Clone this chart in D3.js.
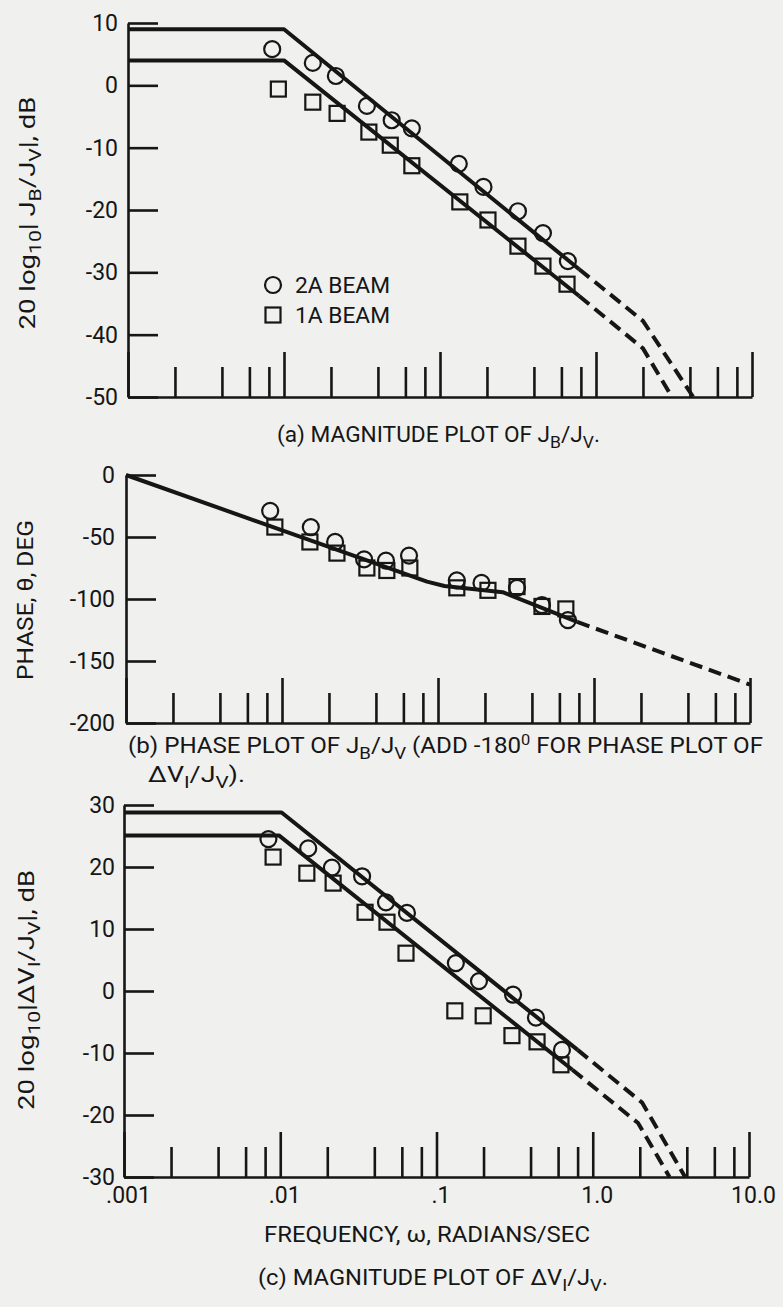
<!DOCTYPE html>
<html>
<head>
<meta charset="utf-8">
<script src="https://cdn.jsdelivr.net/npm/d3@7"></script>
<style>
	body { margin: 0; background: #f0f0ee; }
	svg { display: block; background: #f0f0ee; }
	text { font-family: Roboto, "Liberation Sans Narrow", "Liberation Sans", sans-serif; fill: #161616; }
	.tick text { font-size: 23px; }
</style>
</head>
<body>
<svg id="chart" width="783" height="1307"></svg>
<script>

///////////////////////////////////////////////////////////////////////
// data (frequency in rad/sec)

const freq_ticks = [ 0.001, 0.01, 0.1, 1, 10 ];
const freq_labels = [ ".001", ".01", ".1", "1.0", "10.0" ];
const minor_steps = [ 2, 4, 6, 8 ];

// (a) magnitude of JB/JV, dB
const mag_ticks_a = [ 10, 0, -10, -20, -30, -40, -50 ];
const freq_a_2A = [ 0.0084, 0.0153, 0.0215, 0.034, 0.049, 0.066, 0.132, 0.19, 0.316, 0.457, 0.66 ];
const mag_a_2A  = [ 5.8, 3.6, 1.5, -3.3, -5.6, -6.9, -12.6, -16.3, -20.2, -23.7, -28.2 ];
const freq_a_1A = [ 0.0092, 0.0153, 0.0219, 0.035, 0.048, 0.066, 0.134, 0.203, 0.316, 0.457, 0.652 ];
const mag_a_1A  = [ -0.6, -2.7, -4.5, -7.5, -9.6, -12.9, -18.7, -21.6, -25.8, -29.0, -31.9 ];
const fit_a_2A      = [ [ 0.001, 9 ], [ 0.01, 9 ], [ 0.78, -29.5 ] ];
const fit_a_2A_dash = [ [ 0.78, -29.5 ], [ 2.0, -37.8 ], [ 4.2, -50 ] ];
const fit_a_1A      = [ [ 0.001, 4 ], [ 0.01, 4 ], [ 0.78, -33.8 ] ];
const fit_a_1A_dash = [ [ 0.78, -33.8 ], [ 2.0, -42.2 ], [ 3.07, -50 ] ];

// (b) phase of JB/JV, deg
const phase_ticks = [ 0, -50, -100, -150, -200 ];
const freq_b_2A  = [ 0.0084, 0.0153, 0.0219, 0.0336, 0.0464, 0.0652, 0.132, 0.19, 0.321, 0.464, 0.68 ];
const phase_b_2A = [ -29, -42, -54, -68, -69, -65, -85, -87, -91, -105, -117 ];
const freq_b_1A  = [ 0.009, 0.0151, 0.0225, 0.035, 0.047, 0.066, 0.132, 0.209, 0.321, 0.464, 0.66 ];
const phase_b_1A = [ -42, -54, -63, -75, -77, -75, -91, -93, -90, -106, -108 ];
const fit_b      = [ [ 0.001, 0 ], [ 0.085, -86 ], [ 0.11, -89.5 ], [ 0.26, -94.5 ], [ 0.78, -118.5 ] ];
const fit_b_dash = [ [ 0.78, -118.5 ], [ 10, -169 ] ];

// (c) magnitude of dVI/JV, dB
const mag_ticks_c = [ 30, 20, 10, 0, -10, -20, -30 ];
const freq_c_2A = [ 0.0084, 0.0151, 0.0214, 0.0334, 0.0475, 0.0647, 0.133, 0.187, 0.309, 0.433, 0.635 ];
const mag_c_2A  = [ 24.5, 23.0, 19.9, 18.5, 14.3, 12.6, 4.5, 1.6, -0.6, -4.3, -9.5 ];
const freq_c_1A = [ 0.009, 0.0148, 0.0218, 0.0349, 0.0482, 0.0638, 0.131, 0.199, 0.304, 0.44, 0.626 ];
const mag_c_1A  = [ 21.6, 19.0, 17.4, 12.7, 11.1, 6.1, -3.2, -4.0, -7.2, -8.2, -11.9 ];
const fit_c_2A      = [ [ 0.001, 28.8 ], [ 0.0102, 28.8 ], [ 0.8, -9.5 ] ];
const fit_c_2A_dash = [ [ 0.8, -9.5 ], [ 2.07, -18 ], [ 3.9, -30 ] ];
const fit_c_1A      = [ [ 0.001, 25.1 ], [ 0.0098, 25.1 ], [ 0.74, -12.7 ] ];
const fit_c_1A_dash = [ [ 0.74, -12.7 ], [ 1.95, -21.3 ], [ 3.1, -30 ] ];

const legend_labels = [ "2A BEAM", "1A BEAM" ];

///////////////////////////////////////////////////////////////////////

const INK = "#161616";
const svg = d3.select( "#chart" );

let minor_ticks = [];
for( let i=0; i< freq_ticks.length - 1; i++ )	{
	minor_steps.forEach( m => minor_ticks.push( freq_ticks[ i ] * m ) );
}

function zip( xs, ys )	{
	return( xs.map( ( d, i ) => [ d, ys[ i ] ] ) );
}

function panel( p )	{

	let x = d3.scaleLog()
		.domain( [ 0.001, 10 ] )
		.range( [ p.left, p.right ] );

	let y = d3.scaleLinear()
		.domain( p.y_domain )
		.range( [ p.bottom, p.top ] );

	let g = svg.append( "g" );

	// vertical axis, ticks pointing inward
	g.append( "g" )
		.attr( "transform", "translate(" + p.left + ",0)" )
		.call( d3.axisLeft( y )
			.tickValues( p.y_ticks )
			.tickSizeInner( -30 )
			.tickSizeOuter( 0 )
			.tickPadding( p.pad )
			.tickFormat( d => String( d ) )
		);

	// frequency axis: decades long, 2-4-6-8 short
	g.append( "g" )
		.attr( "class", "minor" )
		.attr( "transform", "translate(0," + p.bottom + ")" )
		.call( d3.axisBottom( x )
			.tickValues( minor_ticks )
			.tickSizeInner( -30 )
			.tickSizeOuter( 0 )
			.tickFormat( "" )
		)
		.select( ".domain" ).remove();

	g.append( "g" )
		.attr( "transform", "translate(0," + p.bottom + ")" )
		.call( d3.axisBottom( x )
			.tickValues( freq_ticks )
			.tickSizeInner( -45 )
			.tickSizeOuter( 0 )
			.tickPadding( 10 )
			.tickFormat( ( d, i ) => p.freq_labels ? freq_labels[ i ] : "" )
		)
		.selectAll( ".tick text" ).attr( "dx", 4 );

	g.selectAll( ".domain, .tick line" )
		.attr( "stroke", INK )
		.attr( "stroke-width", 2.6 );

	let line = d3.line()
		.curve( d3.curveLinear )
		.x( d => x( d[ 0 ] ) )
		.y( d => y( d[ 1 ] ) );

	p.solid.forEach( pts => {
		g.append( "path" )
			.datum( pts )
			.attr( "d", line )
			.attr( "fill", "none" )
			.attr( "stroke", INK )
			.attr( "stroke-width", 4 )
			.attr( "stroke-linejoin", "round" );
	} );

	p.dashed.forEach( pts => {
		g.append( "path" )
			.datum( pts )
			.attr( "d", line )
			.attr( "fill", "none" )
			.attr( "stroke", INK )
			.attr( "stroke-width", 4 )
			.attr( "stroke-dasharray", "13, 7" );
	} );

	g.selectAll( "rect.pt" )
		.data( p.squares )
		.join( "rect" )
			.attr( "class", "pt" )
			.attr( "x", d => x( d[ 0 ] ) - 7.5 )
			.attr( "y", d => y( d[ 1 ] ) - 7.5 )
			.attr( "width", 15 )
			.attr( "height", 15 )
			.attr( "fill", "none" )
			.attr( "stroke", INK )
			.attr( "stroke-width", 2.2 );

	g.selectAll( "circle.pt" )
		.data( p.circles )
		.join( "circle" )
			.attr( "class", "pt" )
			.attr( "cx", d => x( d[ 0 ] ) )
			.attr( "cy", d => y( d[ 1 ] ) )
			.attr( "r", 8 )
			.attr( "fill", "none" )
			.attr( "stroke", INK )
			.attr( "stroke-width", 2.2 );

	return( g );
}

// text with subscript / superscript pieces, stretched to the measured width
function rich( parts, attrs, length )	{

	let t = svg.append( "text" ).attr( "font-size", 22 );
	for( let k in attrs ) t.attr( k, attrs[ k ] );

	parts.forEach( ( [ s, kind ] ) => {
		let ts = t.append( "tspan" ).text( s );
		if( kind === "sub" )	ts.attr( "font-size", 17 ).attr( "baseline-shift", "-6" );
		if( kind === "sup" )	ts.attr( "font-size", 15 ).attr( "baseline-shift", "8" );
	} );
	if( length )	{
		t.attr( "textLength", length ).attr( "lengthAdjust", "spacingAndGlyphs" );
	}
	return( t );
}

///////////////////////////////////////////////////////////////////////

panel( {
	left: 128, right: 752, top: 23, bottom: 397, pad: 10,
	y_domain: [ -50, 10 ], y_ticks: mag_ticks_a,
	circles: zip( freq_a_2A, mag_a_2A ),
	squares: zip( freq_a_1A, mag_a_1A ),
	solid: [ fit_a_2A, fit_a_1A ],
	dashed: [ fit_a_2A_dash, fit_a_1A_dash ]
} );

panel( {
	left: 126, right: 750, top: 475, bottom: 723, pad: 11,
	y_domain: [ -200, 0 ], y_ticks: phase_ticks,
	circles: zip( freq_b_2A, phase_b_2A ),
	squares: zip( freq_b_1A, phase_b_1A ),
	solid: [ fit_b ],
	dashed: [ fit_b_dash ]
} );

panel( {
	left: 124, right: 749, top: 805, bottom: 1177, pad: 9,
	y_domain: [ -30, 30 ], y_ticks: mag_ticks_c,
	circles: zip( freq_c_2A, mag_c_2A ),
	squares: zip( freq_c_1A, mag_c_1A ),
	solid: [ fit_c_2A, fit_c_1A ],
	dashed: [ fit_c_2A_dash, fit_c_1A_dash ],
	freq_labels: true
} );

// legend
svg.append( "circle" )
	.attr( "cx", 273 ).attr( "cy", 285 ).attr( "r", 8 )
	.attr( "fill", "none" ).attr( "stroke", INK ).attr( "stroke-width", 2.2 );
svg.append( "rect" )
	.attr( "x", 265.5 ).attr( "y", 307.5 ).attr( "width", 15 ).attr( "height", 15 )
	.attr( "fill", "none" ).attr( "stroke", INK ).attr( "stroke-width", 2.2 );
legend_labels.forEach( ( s, i ) => {
	svg.append( "text" )
		.attr( "x", 295 ).attr( "y", 293 + i * 30 )
		.attr( "font-size", 22 )
		.attr( "textLength", 95 )
		.attr( "lengthAdjust", "spacingAndGlyphs" )
		.text( s );
} );

// vertical axis titles
rich( [ [ "20 log" ], [ "10", "sub" ], [ "| J" ], [ "B", "sub" ], [ "/J" ], [ "V", "sub" ], [ "|, dB" ] ],
	{ transform: "translate(35,213) rotate(-90)", "text-anchor": "middle" }, 233 );
rich( [ [ "PHASE, θ, DEG" ] ],
	{ transform: "translate(33,600) rotate(-90)", "text-anchor": "middle" }, 160 );
rich( [ [ "20 log" ], [ "10", "sub" ], [ "|ΔV" ], [ "I", "sub" ], [ "/J" ], [ "V", "sub" ], [ "|, dB" ] ],
	{ transform: "translate(34,990) rotate(-90)", "text-anchor": "middle" }, 240 );

// captions
rich( [ [ "(a) MAGNITUDE PLOT OF J" ], [ "B", "sub" ], [ "/J" ], [ "V", "sub" ], [ "." ] ],
	{ x: 277, y: 442 }, 323 );
rich( [ [ "(b) PHASE PLOT OF J" ], [ "B", "sub" ], [ "/J" ], [ "V", "sub" ], [ " (ADD -180" ], [ "0", "sup" ], [ " FOR PHASE PLOT OF" ] ],
	{ x: 128, y: 753 }, 635 );
rich( [ [ "ΔV" ], [ "I", "sub" ], [ "/J" ], [ "V", "sub" ], [ ")." ] ],
	{ x: 148, y: 782 }, 97 );
rich( [ [ "FREQUENCY, ω, RADIANS/SEC" ] ],
	{ x: 264, y: 1242 }, 326 );
rich( [ [ "(c) MAGNITUDE PLOT OF ΔV" ], [ "I", "sub" ], [ "/J" ], [ "V", "sub" ], [ "." ] ],
	{ x: 258, y: 1285 }, 350 );

</script>
</body>
</html>
